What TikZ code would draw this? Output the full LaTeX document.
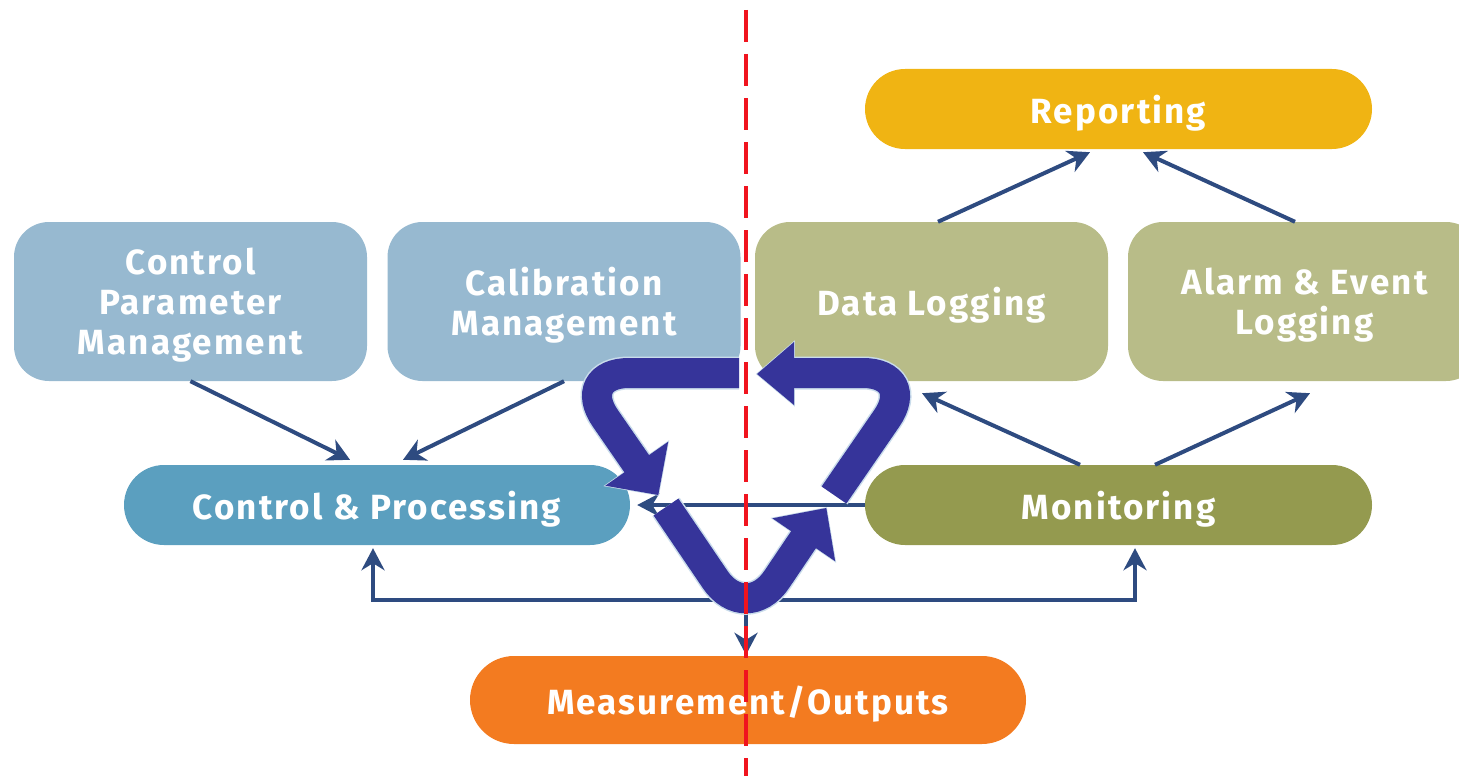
\documentclass[tikz,border=0pt]{standalone}
\usepackage{fontspec}
\setmainfont{Fira Sans}
\newfontfamily\lblfamily{Fira Sans}[LetterSpace=6]
\newcommand\boxfont{\lblfamily\bfseries\fontsize{35}{40}\selectfont}
\usetikzlibrary{arrows.meta,calc}
\definecolor{lblue}{HTML}{97B9D0}
\definecolor{olivel}{HTML}{B8BC88}
\definecolor{gold}{HTML}{F0B413}
\definecolor{tealb}{HTML}{5B9FBF}
\definecolor{olived}{HTML}{949A4F}
\definecolor{orangeb}{HTML}{F37B20}
\definecolor{navy}{HTML}{2E4B80}
\definecolor{bigblue}{HTML}{36349A}
\definecolor{rim}{HTML}{C9DCEB}
\definecolor{redline}{HTML}{F0141E}
\begin{document}
\begin{tikzpicture}[x=1pt,y=-1pt,
  box/.style={rounded corners=35pt, minimum width=353pt, minimum height=159pt,
    align=center, text=white, font=\boxfont, inner sep=0pt, text depth=0pt},
  pill/.style={rounded corners=40pt, minimum height=80pt,
    align=center, text=white, font=\boxfont, inner sep=0pt, text depth=0pt},
  conn/.style={draw=navy, line width=4pt, -{Stealth[length=22pt,width=23pt,inset=7pt]}},
  rimline/.style={draw=rim, line width=33pt, rounded corners=55pt},
  bigline/.style={draw=bigblue, line width=30pt, rounded corners=55pt},
  rimhead/.style={fill=bigblue, draw=rim, line width=1.5pt},
  redcut/.style={draw=redline, line width=3.5pt, dash pattern=on 32pt off 12pt}
]
\useasboundingbox (0,0) rectangle (1459,776);
\clip (0,0) rectangle (1459,776);

% boxes
\node[box, fill=lblue] (cpm) at (190.5,301.5) {Control\\Parameter\\Management};
\node[box, fill=lblue] (cal) at (564,301.5) {Calibration\\Management};
\node[box, fill=olivel] (dl) at (931.5,301.5) {Data Logging};
\node[box, fill=olivel] (al) at (1304.5,301.5) {Alarm \& Event\\Logging};
\node[pill, fill=gold, minimum width=507pt] (rep) at (1118.5,109) {Reporting};
\node[pill, fill=tealb, minimum width=506pt] (cp) at (377,505) {Control \& Processing};
\node[pill, fill=olived, minimum width=507pt] (mon) at (1118.5,505) {Monitoring};
\node[pill, fill=orangeb, minimum width=556pt, minimum height=88pt, rounded corners=44pt] (meas) at (748,700) {Measurement/Outputs};

% thin connectors
\draw[conn] (cpm.south) -- ([xshift=-27pt,yshift=5pt]cp.north);
\draw[conn] (cal.south) -- ([xshift=26pt,yshift=5pt]cp.north);
\draw[conn] ([xshift=6.5pt]dl.north) -- ([xshift=-28.5pt,yshift=-3pt]rep.south);
\draw[conn] ([xshift=-9.5pt]al.north) -- ([xshift=24.5pt,yshift=-3pt]rep.south);
\draw[conn] ([xshift=-38.5pt]mon.north) -- ([xshift=-9.5pt,yshift=-12pt]dl.south);
\draw[conn] ([xshift=36.5pt]mon.north) -- ([xshift=5.5pt,yshift=-12pt]al.south);
\draw[conn] (mon.west) -- ([xshift=7pt]cp.east);
\coordinate (j) at (746,600);
\draw[conn] (j) -| ([xshift=-4pt,yshift=-3pt]cp.south);
\draw[conn] (j) -| ([xshift=16.5pt,yshift=-3pt]mon.south);
\draw[conn] (j) -- ([xshift=-2pt,yshift=1pt]meas.north);

% big cycle arrow: rims
\draw[rimline] (739,373) -- (574,373) -- (639,467);
\draw[rimline] (666,507) -- (746,625) -- (806,536);
\draw[rimline] (834,495) -- (918,373) -- (791,373);
\filldraw[rimhead] (658.3,495) -- (668.2,441.7) -- (605.3,485.7) -- cycle;
\filldraw[rimhead] (826.3,508) -- (835.2,561.3) -- (772.3,518.3) -- cycle;
\filldraw[rimhead] (757,374) -- (794,342) -- (794,405) -- cycle;
% big cycle arrow: body
\draw[bigline] (739,373) -- (574,373) -- (639,467);
\draw[bigline] (666,507) -- (746,625) -- (806,536);
\draw[bigline] (834,495) -- (918,373) -- (791,373);
\fill[bigblue] (658.3,495) -- (668.2,441.7) -- (605.3,485.7) -- cycle;
\fill[bigblue] (826.3,508) -- (835.2,561.3) -- (772.3,518.3) -- cycle;
\fill[bigblue] (757,374) -- (794,342) -- (794,405) -- cycle;

% red dashed divider
\draw[redcut] (746,10) -- (746,776);
\end{tikzpicture}
\end{document}
